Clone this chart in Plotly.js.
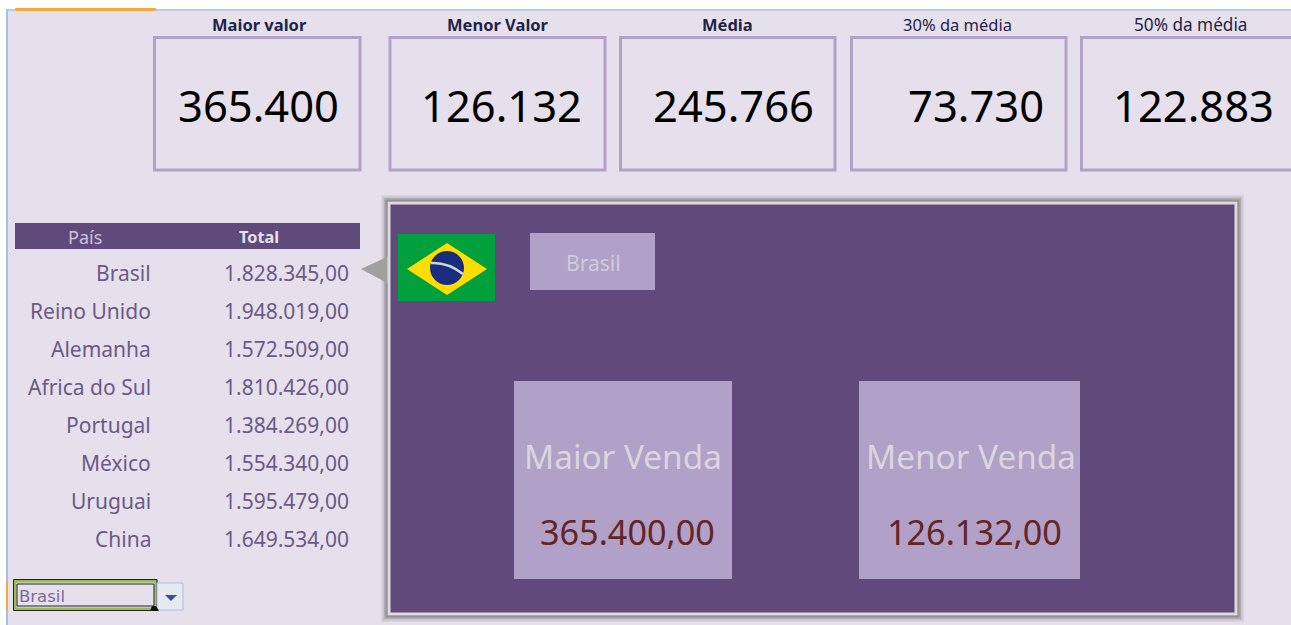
<!DOCTYPE html>
<html><head><meta charset="utf-8">
<script src="https://cdn.plot.ly/plotly-3.0.1.min.js"></script>
<style>html,body{margin:0;padding:0;background:#fff;overflow:hidden}#c{width:1291px;height:625px}</style>
</head><body><div id="c"></div>
<script>
const cardLabels = ["Maior valor","Menor Valor","Média","30% da média","50% da média"];
const cardValues = ["365.400","126.132","245.766","73.730","122.883"];
const paises = ["Brasil","Reino Unido","Alemanha","Africa do Sul","Portugal","México","Uruguai","China"];
const totais = ["1.828.345,00","1.948.019,00","1.572.509,00","1.810.426,00","1.384.269,00","1.554.340,00","1.595.479,00","1.649.534,00"];
const tableHeader = ["País","Total"];
const selected = "Brasil";
const vendaLabels = ["Maior Venda","Menor Venda"];
const vendaValues = ["365.400,00","126.132,00"];

const FONT = '"Noto Sans", sans-serif';
const PURPLE = '#604A7B', LILAC = '#B1A0C7', BG = '#E6E0EC';
const shapes = [], ann = [];
function rect(x0,y0,x1,y1,fill,line,w){shapes.push({type:'rect',xref:'x',yref:'y',x0,y0,x1,y1,fillcolor:fill||'rgba(0,0,0,0)',line:{color:line||'rgba(0,0,0,0)',width:w||0}});}
function path(d,fill,line,w){shapes.push({type:'path',xref:'x',yref:'y',path:d,fillcolor:fill,line:{color:line||'rgba(0,0,0,0)',width:w||0}});}
function text(x,y,t,size,color,anchor,bold,family){ann.push({xref:'x',yref:'y',x,y,text:bold?'<b>'+t+'</b>':t,showarrow:false,xanchor:anchor||'center',yanchor:'middle',font:{family:family||FONT,size,color},borderpad:0,borderwidth:0});}

// sheet background and edges
rect(7,10,1291,625,BG);
rect(6,9,1291,11,'#B8CCE4');
rect(6,9,8,625,'#A9C0DC');
rect(15,8,156,11,'#F7A83A');
rect(6,581,8,610,'#F7A83A');

// cards
const cardX=[[154.5,360],[390,605],[620.5,835],[851.5,1066],[1081.5,1300]];
const labelCx=[259,498,727,957.5,1190.5];
const valueCx=[258.5,501.5,733,976,1193.5];
const labelSize=[16.5,16.5,16.5,16.5,17.2];
cardLabels.forEach((l,i)=>{
  rect(cardX[i][0],37.5,cardX[i][1],170,null,'#B3A2C7',3);
  text(labelCx[i],24.5,l,labelSize[i],'#1F2348',null,i<3);
  text(valueCx[i],104.5,cardValues[i],43.5,'#000000');
});

// table
rect(15,223,360,249,PURPLE);
text(85,237,tableHeader[0],18,'#CCC1DA');
text(259,237,tableHeader[1],16.3,'#E6E0EC',null,true);
paises.forEach((p,i)=>{
  const y=272.5+38*i;
  text(151,y,p,21,'#6B5A86','right');
  text(349,y,totais[i],21,'#6B5A86','right');
});

// panel shadow, panel
[[8,.06],[6.5,.1],[5,.14],[3.5,.2],[2,.26],[1,.3]].forEach(([d,a])=>rect(389-d,203-d,1236+d,614+d,'rgba(40,40,40,'+a+')'));
path('M361,269 L389,256 L389,284 Z','#A0A09E');
rect(389,203,1236,614,PURPLE,'#DCDCDC',3);

// flag
rect(398,234,495,301,'#00A03C');
path('M407,269 L447,243 L487,269 L447,295 Z','#FFDD00');
shapes.push({type:'circle',xref:'x',yref:'y',x0:430,y0:251,x1:464,y1:285,fillcolor:'#1A2C80',line:{width:0,color:'rgba(0,0,0,0)'}});
path('M431,263 Q448,262 463,274','rgba(0,0,0,0)','#C9D6D8',2.5);

rect(530,233,655,290,LILAC);
text(593,262.5,selected,21,'#D0CCDA');

// sales boxes
const boxX=[[514,732],[859,1080]];
const boxCx=[623,970.5];
const boxValCx=[627.5,974];
vendaLabels.forEach((l,i)=>{
  rect(boxX[i][0],381,boxX[i][1],579,LILAC);
  text(boxCx[i],456,l,33.3,'#DAD6DD');
  text(boxValCx[i],531,vendaValues[i],34.2,'#632523');
});

// combo box
rect(15,581,156,609,'rgba(0,0,0,0)','#9BBB59',3);
rect(13.5,579.5,157,610.5,null,'#222222',1);
rect(17,584,154,606,null,'#222222',1);
rect(157,583,183,610,'#E4E9F2','#A9C0DC',1);
path('M165,595 L177,595 L171,601 Z','#3A4E9C');
path('M150,611 L152,606 L156,606 L159,611 Z','#111111');
text(19,596,selected,16.5,'#7A6A9A','left',false,'"DejaVu Sans", sans-serif');

const layout={
  width:1291,height:625,margin:{l:0,r:0,t:0,b:0},
  paper_bgcolor:'#FFFFFF',plot_bgcolor:'rgba(0,0,0,0)',
  xaxis:{range:[0,1291],visible:false,fixedrange:true},
  yaxis:{range:[625,0],visible:false,fixedrange:true},
  shapes,annotations:ann,showlegend:false
};
Plotly.newPlot('c',[{x:[0,1291],y:[0,625],mode:'markers',marker:{opacity:0,size:1},hoverinfo:'skip',type:'scatter'}],layout,{staticPlot:true,displayModeBar:false});
</script></body></html>
